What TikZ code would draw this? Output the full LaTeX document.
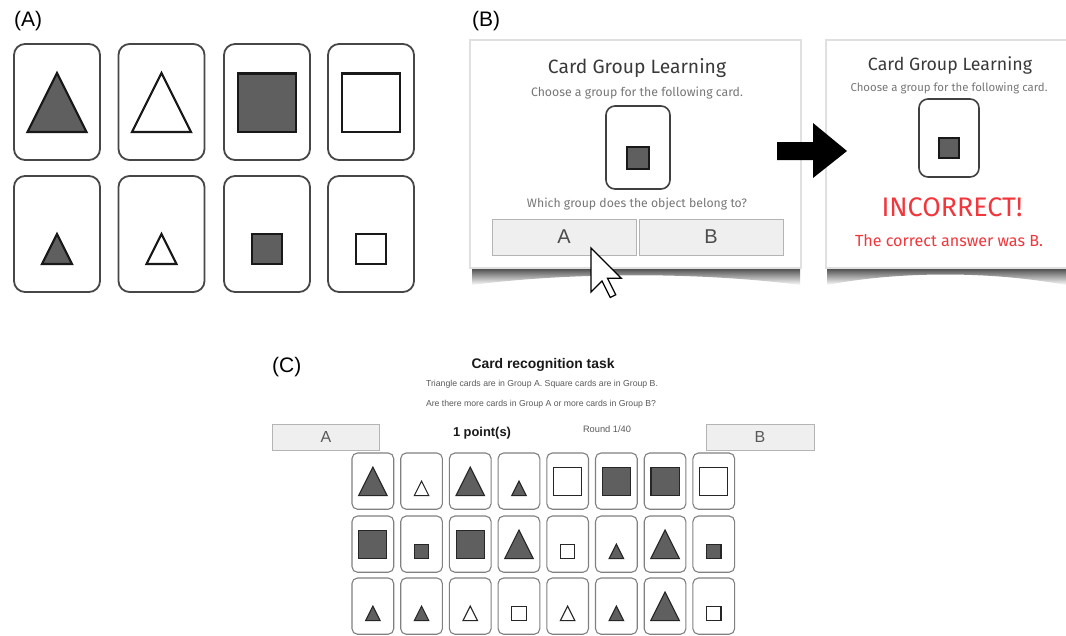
\documentclass[tikz,border=0pt]{standalone}
\usepackage{fontspec}
\setmainfont{Liberation Sans}
\newfontfamily\uifont{Fira Sans}
\usetikzlibrary{fadings}
\definecolor{shapegray}{HTML}{5F5F5F}
\definecolor{uired}{HTML}{F0373C}
\definecolor{btnfill}{HTML}{EFEFEF}
\definecolor{btndraw}{HTML}{B4B4B4}
\definecolor{uitext}{HTML}{3A3A3A}
\definecolor{uisub}{HTML}{777777}
\newcommand\fitw[2]{\resizebox{#1pt}{!}{#2}}
% card: x, y, scale, card style, shape style, shape path
\newcommand\crd[6]{%
  \begin{scope}[shift={(#1,#2)},scale=#3]
    \draw[#4] (0,0) rectangle (86,116);
    \draw[#5] #6;
  \end{scope}}
\def\TB{(13.5,88) -- (72.5,88) -- (43,29) -- cycle}
\def\TS{(28,88) -- (58,88) -- (43,58) -- cycle}
\def\SB{(14,29.5) rectangle (72,88)}
\def\SS{(28,58) rectangle (58,88)}
\begin{document}
\begin{tikzpicture}[x=1pt,y=-1pt,
  cardA/.style={draw=black!72, line width=1.8pt, rounded corners=11pt, fill=white},
  cardC/.style={draw=black!50, line width=1.1pt, rounded corners=5.5pt, fill=white},
  fA/.style={draw=black!90, line width=2.2pt, fill=shapegray, line join=miter},
  oA/.style={draw=black!90, line width=2.2pt, fill=white, line join=miter},
  fC/.style={draw=black!85, line width=1.1pt, fill=shapegray, line join=miter},
  oC/.style={draw=black!85, line width=1.1pt, fill=white, line join=miter},
  panellabel/.style={font=\fontsize{21}{24}\selectfont, anchor=west, inner sep=0pt},
  screen/.style={fill=white, draw=black!12, line width=1.5pt},
  shadowband/.style={left color=black!80, middle color=black!45, right color=black!80, path fading=south},
  btn/.style={fill=btnfill, draw=btndraw, line width=0.8pt},
  btntext/.style={font=\fontsize{20}{22}\selectfont, text=black!70, inner sep=0pt},
  uititle/.style={font=\uifont, text=uitext, inner sep=0pt},
  uisubt/.style={font=\uifont, text=uisub, inner sep=0pt},
  uired/.style={font=\uifont, text=uired, inner sep=0pt},
  ctext/.style={text=black!65, inner sep=0pt}
]
\useasboundingbox (0,0) rectangle (1066,635);

% ---------------- (A) ----------------
\node[panellabel] (labA) at (14,21) {(A)};
\crd{14}{44}{1}{cardA}{fA}{\TB}
\crd{118.5}{44}{1}{cardA}{oA}{\TB}
\crd{224}{44}{1}{cardA}{fA}{\SB}
\crd{328}{44}{1}{cardA}{oA}{\SB}
\crd{14}{176}{1}{cardA}{fA}{\TS}
\crd{118.5}{176}{1}{cardA}{oA}{\TS}
\crd{224}{176}{1}{cardA}{fA}{\SS}
\crd{328}{176}{1}{cardA}{oA}{\SS}

% ---------------- (B) ----------------
\node[panellabel] (labB) at (472,21) {(B)};
% shadows
\shade[shadowband]
  (472,266) -- (800,266) -- (800,285) .. controls (700,272) and (572,272) .. (472,285) -- cycle;
\shade[shadowband]
  (827,266) -- (1066,266) -- (1066,285) .. controls (990,271) and (900,271) .. (827,285) -- cycle;
% screens
\draw[screen] (470,40) rectangle (801,268);
\draw[screen] (826,40) rectangle (1072,268);

% left screen
\node[uititle] (t1) at (637,68) {\fitw{178}{Card Group Learning}};
\node[uisubt] (s1) at (637,93) {\fitw{212}{Choose a group for the following card.}};
\draw[draw=black!75, line width=1.6pt, rounded corners=9pt, fill=white] (606,106) rectangle (670,189);
\draw[fill=shapegray, draw=black!90, line width=1.5pt] (627,147) rectangle (649,169);
\node[uisubt] (q1) at (637,204) {\fitw{220}{Which group does the object belong to?}};
\draw[btn] (492,219) rectangle (636,255);
\draw[btn] (639,219) rectangle (783,255);
\node[btntext] (bA) at (564,237) {A};
\node[btntext] (bB) at (711,237) {B};
% cursor
\begin{scope}[shift={(591,248)},scale=2.75]
  \draw[fill=white, draw=black, line width=1.3pt, line join=miter]
    (0,0) -- (0,16) -- (4,12) -- (7,18) -- (9,17) -- (6,11) -- (11,11) -- cycle;
\end{scope}

% arrow
\fill[black] (777,142) -- (813,142) -- (813,123) -- (847,151) -- (813,178) -- (813,160) -- (777,160) -- cycle;

% right screen
\node[uititle] (t2) at (950,65) {\fitw{164}{Card Group Learning}};
\node[uisubt] (s2) at (949,88) {\fitw{197}{Choose a group for the following card.}};
\draw[draw=black!75, line width=1.6pt, rounded corners=9pt, fill=white] (919,99) rectangle (979,177);
\draw[fill=shapegray, draw=black!90, line width=1.5pt] (939,138) rectangle (959,158);
\node[uired] (inc) at (952,207) {\fitw{141}{INCORRECT!}};
\node[uired] (ans) at (949,241) {\fitw{188}{The correct answer was B.}};

% ---------------- (C) ----------------
\node[panellabel] (labC) at (272,367) {(C)};
\node[inner sep=0pt, font=\bfseries, text=black!90] (ct) at (543,365) {\fitw{143}{Card recognition task}};
\node[ctext] (c1) at (542,384) {\fitw{232}{Triangle cards are in Group A. Square cards are in Group B.}};
\node[ctext] (c2) at (541,404) {\fitw{230}{Are there more cards in Group A or more cards in Group B?}};
\draw[btn] (272,424) rectangle (379,450);
\draw[btn] (706,424) rectangle (814,450);
\node[btntext, font=\fontsize{16}{18}\selectfont, text=black!65] (cA) at (326,437) {A};
\node[btntext, font=\fontsize{16}{18}\selectfont, text=black!65] (cB) at (760,437) {B};
\node[inner sep=0pt, font=\bfseries, text=black!90] (pts) at (482,433) {\fitw{58}{1 point(s)}};
\node[ctext] (rnd) at (607,429) {\fitw{48}{Round 1/40}};

% grid
\def\cs{0.485}
% row 1
\crd{352}{453}{\cs}{cardC}{fC}{\TB}
\crd{400.7}{453}{\cs}{cardC}{oC}{\TS}
\crd{449.4}{453}{\cs}{cardC}{fC}{\TB}
\crd{498.1}{453}{\cs}{cardC}{fC}{\TS}
\crd{546.8}{453}{\cs}{cardC}{oC}{\SB}
\crd{595.5}{453}{\cs}{cardC}{fC}{\SB}
\crd{644.2}{453}{\cs}{cardC}{fC}{\SB}
\crd{692.9}{453}{\cs}{cardC}{oC}{\SB}
% row 2
\crd{352}{516}{\cs}{cardC}{fC}{\SB}
\crd{400.7}{516}{\cs}{cardC}{fC}{\SS}
\crd{449.4}{516}{\cs}{cardC}{fC}{\SB}
\crd{498.1}{516}{\cs}{cardC}{fC}{\TB}
\crd{546.8}{516}{\cs}{cardC}{oC}{\SS}
\crd{595.5}{516}{\cs}{cardC}{fC}{\TS}
\crd{644.2}{516}{\cs}{cardC}{fC}{\TB}
\crd{692.9}{516}{\cs}{cardC}{fC}{\SS}
% row 3
\crd{352}{578}{\cs}{cardC}{fC}{\TS}
\crd{400.7}{578}{\cs}{cardC}{fC}{\TS}
\crd{449.4}{578}{\cs}{cardC}{oC}{\TS}
\crd{498.1}{578}{\cs}{cardC}{oC}{\SS}
\crd{546.8}{578}{\cs}{cardC}{oC}{\TS}
\crd{595.5}{578}{\cs}{cardC}{fC}{\TS}
\crd{644.2}{578}{\cs}{cardC}{fC}{\TB}
\crd{692.9}{578}{\cs}{cardC}{oC}{\SS}
\end{tikzpicture}
\end{document}
